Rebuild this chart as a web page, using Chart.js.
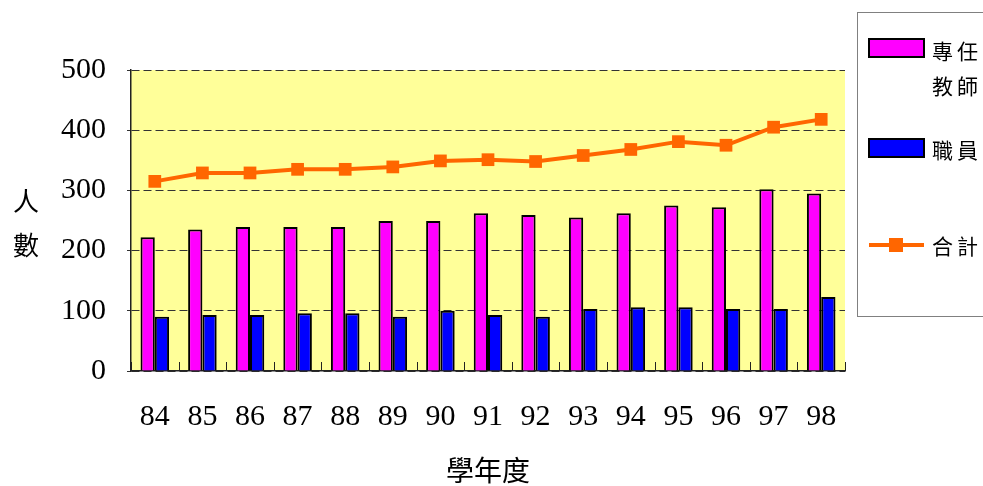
<!DOCTYPE html>
<html>
<head>
<meta charset="utf-8">
<script src="https://cdn.jsdelivr.net/npm/chart.js@4.4.1/dist/chart.umd.min.js"></script>
<style>
  html, body { margin: 0; padding: 0; background: #fff; }
  #wrap { width: 983px; height: 486px; }
</style>
</head>
<body>
<div id="wrap"><canvas id="staffChart" width="983" height="486"></canvas></div>
<script>
 var years = ["84", "85", "86", "87", "88", "89", "90", "91", "92", "93", "94", "95", "96", "97", "98"];
 var teachers = [222, 235, 239, 239, 239, 249, 249, 262, 259, 255, 262, 275, 272, 302, 295];
 var staff = [90, 93, 93, 96, 96, 90, 100, 93, 90, 103, 106, 106, 103, 103, 123];
 var total = [315, 329, 329, 335, 335, 339, 349, 351, 348, 358, 368, 381, 375, 405, 418];
 var yTicks = [0, 100, 200, 300, 400, 500];

 var cjk = '"Noto Sans CJK TC", "Noto Sans CJK SC", sans-serif';
 var serif = '"Liberation Serif", "Times New Roman", serif';

 // yellow plot area, inner x ticks, axis titles and the boxed legend
 var decor = {
   id: 'decor',
   beforeDraw: function (chart) {
     var a = chart.chartArea, ctx = chart.ctx;
     ctx.save();
     ctx.fillStyle = '#FFFF99';
     ctx.fillRect(a.left, a.top, a.right - a.left, a.bottom - a.top);
     ctx.restore();
   },
   afterDraw: function (chart) {
     var a = chart.chartArea, ctx = chart.ctx;
     ctx.save();
     // little tick marks between the years, pointing up
     ctx.strokeStyle = '#222';
     ctx.lineWidth = 1;
     var step = (a.right - a.left) / years.length;
     for (var i = 0; i <= years.length; i++) {
       var x = Math.round(a.left + i * step) + 0.5;
       ctx.beginPath();
       ctx.moveTo(x, a.bottom);
       ctx.lineTo(x, a.bottom - 9);
       ctx.stroke();
     }

     ctx.fillStyle = '#000';
     ctx.textAlign = 'center';
     ctx.textBaseline = 'middle';
     ctx.font = '26px ' + cjk;
     ctx.fillText('人', 26, 201);
     ctx.fillText('數', 26, 245);
     ctx.font = '28px ' + cjk;
     ctx.fillText('學年度', (a.left + a.right) / 2, 470);

     // legend box
     ctx.strokeStyle = '#808080';
     ctx.lineWidth = 1;
     ctx.fillStyle = '#fff';
     ctx.fillRect(857.5, 12.5, 140, 304);
     ctx.strokeRect(857.5, 12.5, 140, 304);

     ctx.lineWidth = 2;
     ctx.strokeStyle = '#000';
     ctx.fillStyle = '#FF00FF';
     ctx.fillRect(869, 39, 55, 18);
     ctx.strokeRect(869, 39, 55, 18);
     ctx.fillStyle = '#0000FF';
     ctx.fillRect(869, 139, 55, 18);
     ctx.strokeRect(869, 139, 55, 18);

     ctx.strokeStyle = '#FF6600';
     ctx.lineWidth = 4;
     ctx.beginPath();
     ctx.moveTo(869, 245);
     ctx.lineTo(924, 245);
     ctx.stroke();
     ctx.fillStyle = '#FF6600';
     ctx.fillRect(889, 238, 14, 14);

     ctx.fillStyle = '#000';
     ctx.textAlign = 'left';
     ctx.font = '21px ' + cjk;
     var rows = [['專', '任', 51], ['教', '師', 86], ['職', '員', 150], ['合', '計', 246]];
     rows.forEach(function (r) {
       ctx.fillText(r[0], 932, r[2]);
       ctx.fillText(r[1], 957, r[2]);
     });
     ctx.restore();
   }
 };

 var ctx = document.getElementById("staffChart");
 var myChart = new Chart(ctx, {
   type: 'bar',
   data: {
     labels: years,
     datasets: [{
       type: 'line',
       label: '合計',
       data: total,
       borderColor: '#FF6600',
       backgroundColor: '#FF6600',
       borderWidth: 4,
       pointStyle: 'rect',
       pointRadius: 9,
       pointBorderWidth: 0,
       pointBackgroundColor: '#FF6600',
       tension: 0,
       order: 0,
     }, {
       label: '專任教師',
       data: teachers,
       backgroundColor: '#FF00FF',
       borderColor: '#000',
       borderWidth: 2,
       borderSkipped: 'bottom',
       order: 1,
     }, {
       label: '職員',
       data: staff,
       backgroundColor: '#0000FF',
       borderColor: '#000',
       borderWidth: 2,
       borderSkipped: 'bottom',
       order: 1,
     }],
   },
   options: {
     responsive: false,
     animation: false,
     layout: { padding: { left: 0, right: 138, top: 70, bottom: 0 } },
     plugins: {
       legend: { display: false },
       tooltip: { enabled: false },
     },
     datasets: {
       bar: { categoryPercentage: 0.6, barPercentage: 1.0 }
     },
     scales: {
       x: {
         afterFit: function (scale) { scale.height = 115; },
         grid: { display: false },
         border: { display: true, color: '#222', width: 1.5 },
         ticks: {
           padding: 20,
           color: '#000',
           font: { family: serif, size: 30 },
         },
       },
       y: {
         min: 0,
         max: 500,
         afterFit: function (scale) { scale.width = 131; },
         afterBuildTicks: function (scale) {
           scale.ticks = yTicks.map(function (v) { return { value: v }; });
         },
         grid: { color: '#333', lineWidth: 1, tickLength: 4 },
         border: { display: true, color: '#222', width: 1.5, dash: [8, 4] },
         ticks: {
           padding: 21,
           color: '#000',
           font: { family: serif, size: 30 },
         },
       }
     }
   },
   plugins: [decor]
 });
</script>
</body>
</html>
